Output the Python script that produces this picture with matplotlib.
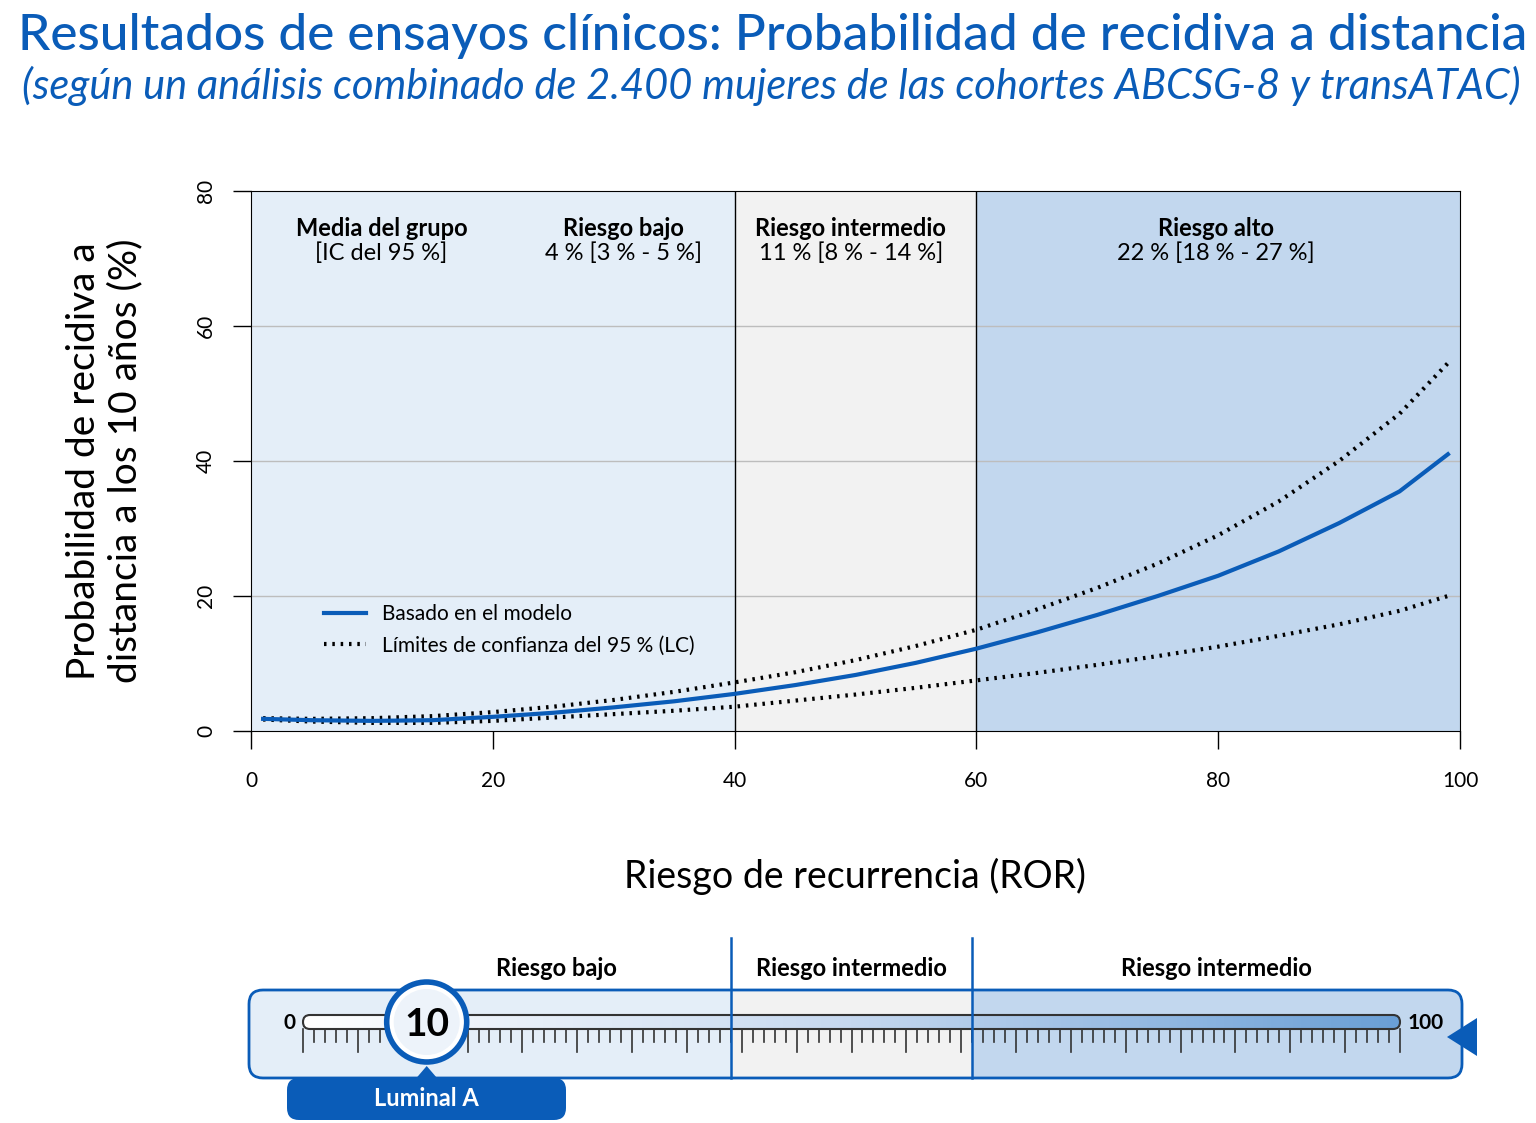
import numpy as np
import matplotlib.pyplot as plt
from matplotlib.patches import FancyBboxPatch, Circle, Polygon
from matplotlib.colors import LinearSegmentedColormap

plt.rcParams['font.family'] = ['Lato', 'DejaVu Sans']

BLUE = '#0a5cb8'
LIGHT = '#e4eef8'
GREY = '#f2f2f2'
MID = '#c2d7ee'

# data
ror = [1, 5, 10, 15, 20, 25, 30, 35, 40, 45, 50, 55, 60, 65, 70, 75, 80, 85, 90, 95, 99]
model = [1.8, 1.6, 1.5, 1.6, 2.1, 2.7, 3.5, 4.4, 5.5, 6.8, 8.3, 10.1, 12.2, 14.6, 17.2,
         20.0, 23.0, 26.6, 30.8, 35.5, 41.0]
upper = [1.9, 1.8, 1.9, 2.2, 2.8, 3.6, 4.6, 5.8, 7.2, 8.7, 10.5, 12.6, 15.0, 18.0, 21.2,
         24.8, 29.0, 34.0, 40.0, 47.0, 54.5]
lower = [1.7, 1.4, 1.2, 1.2, 1.5, 2.0, 2.5, 3.0, 3.6, 4.5, 5.4, 6.4, 7.5, 8.6, 9.8,
         11.1, 12.5, 14.1, 15.8, 17.8, 20.0]
bands = [(0, 40, LIGHT), (40, 60, GREY), (60, 100, MID)]
band_titles = [(10.8, 'Media del grupo', '[IC del 95 %]'),
               (30.8, 'Riesgo bajo', '4 % [3 % - 5 %]'),
               (49.6, 'Riesgo intermedio', '11 % [8 % - 14 %]'),
               (79.8, 'Riesgo alto', '22 % [18 % - 27 %]')]
patient_ror = 10
patient_type = 'Luminal A'
scale_labels = ['Riesgo bajo', 'Riesgo intermedio', 'Riesgo intermedio']

W, H = 1536, 1123
fig = plt.figure(figsize=(W / 100, H / 100), dpi=100)

# overlay in pixel coordinates for titles and the slider widget
ov = fig.add_axes([0, 0, 1, 1])
ov.axis('off')

ov.text(18, 36, 'Resultados de ensayos clínicos: Probabilidad de recidiva a distancia',
        color=BLUE, fontsize=37, fontweight='medium', va='center', ha='left')
ov.text(22, 86, '(según un análisis combinado de 2.400 mujeres de las cohortes ABCSG-8 y transATAC)',
        color=BLUE, fontsize=30, style='italic', va='center', ha='left')

# main chart
x0, x1, y0, y1 = 251, 1460, 731, 191
ax = fig.add_axes([x0 / W, 1 - y0 / H, (x1 - x0) / W, (y0 - y1) / H])
for a, b, c in bands:
    ax.axvspan(a, b, color=c, zorder=0, lw=0)
for v in [20, 40, 60]:
    ax.axhline(v, color='#bdbdbd', lw=1, zorder=1)
for v in [40, 60]:
    ax.axvline(v, color='black', lw=1, zorder=2)
ax.plot(ror, model, color=BLUE, lw=3, zorder=4, label='Basado en el modelo')
ax.plot(ror, upper, color='black', lw=3, ls=(0, (0.6, 1.4)), zorder=3,
        label='Límites de confianza del 95 % (LC)')
ax.plot(ror, lower, color='black', lw=3, ls=(0, (0.6, 1.4)), zorder=3)
ax.set_xlim(0, 100)
ax.set_ylim(0, 80)
ax.set_xticks(range(0, 101, 20))
ax.set_yticks(range(0, 81, 20))
ax.tick_params(labelsize=15, length=13, width=1)
ax.tick_params(axis='x', pad=16)
for lab in ax.get_yticklabels():
    lab.set_rotation(90)
    lab.set_va('center')
ax.tick_params(axis='y', pad=12)
for xc, t1, t2 in band_titles:
    ax.text(xc, 74.5, t1, ha='center', va='center', fontsize=17, fontweight='bold')
    ax.text(xc, 70.8, t2, ha='center', va='center', fontsize=17)
ax.legend(loc='lower left', bbox_to_anchor=(0.045, 0.105), frameon=False, fontsize=15,
          handlelength=2, labelspacing=0.55)
ax.set_ylabel('Probabilidad de recidiva a\ndistancia a los 10 años (%)', fontsize=28, labelpad=38)
ax.set_xlabel('Riesgo de recurrencia (ROR)', fontsize=27, labelpad=48)

# slider widget
bx0, bx1, by0, by1 = 249, 1462, 990, 1078
box = FancyBboxPatch((bx0, by0), bx1 - bx0, by1 - by0,
                     boxstyle='round,pad=0,rounding_size=14', fc='none', ec=BLUE, lw=2, zorder=5)
ov.add_patch(box)
seg_px = [(bx0, 731, LIGHT), (731, 972, GREY), (972, bx1, MID)]
for a, b, c in seg_px:
    r = ov.fill_between([a, b], by0, by1, color=c, lw=0, zorder=1)
    r.set_clip_path(box)
for xv in [731, 972]:
    ov.plot([xv, xv], [938, by1], color=BLUE, lw=1.8, zorder=6)
for xc, t in zip([556, 851, 1216], scale_labels):
    ov.text(xc, 968, t, ha='center', va='center', fontsize=17, fontweight='bold')

s0, s1 = 303, 1400
def sx(v):
    return s0 + (s1 - s0) * v / 100

bar = FancyBboxPatch((s0, 1015), s1 - s0, 14, boxstyle='round,pad=0,rounding_size=7',
                     fc='none', ec='#333333', lw=1.5, zorder=4)
ov.add_patch(bar)
grad = np.linspace(0, 1, 256).reshape(1, -1)
cmap = LinearSegmentedColormap.from_list('g', ['#ffffff', '#c6d8ef', '#6a9fd6'])
im = ov.imshow(grad, extent=(s0, s1, 1029, 1015), cmap=cmap, aspect='auto', zorder=3)
im.set_clip_path(bar)
ov.set_xlim(0, W)
ov.set_ylim(H, 0)
for v in range(0, 101):
    L = 1052 if v % 5 == 0 else 1042
    ov.plot([sx(v), sx(v)], [1029, L], color='#333333', lw=1.2, zorder=4)
ov.text(s0 - 8, 1023, '0', ha='right', va='center', fontsize=15, fontweight='bold')
ov.text(s1 + 8, 1023, '100', ha='left', va='center', fontsize=15, fontweight='bold')
ov.add_patch(Polygon([[1447, 1037], [1477, 1018], [1477, 1056]], closed=True, fc=BLUE, ec='none', zorder=6))

px = sx(patient_ror) + 14
tab = FancyBboxPatch((287, 1078), 566 - 287, 42, boxstyle='round,pad=0,rounding_size=12',
                     fc=BLUE, ec='none', zorder=5)
ov.add_patch(tab)
ov.add_patch(Polygon([[px - 12, 1080], [px, 1066], [px + 12, 1080]], closed=True, fc=BLUE, ec='none', zorder=5))
ov.text(426, 1098, patient_type, ha='center', va='center', fontsize=17, fontweight='bold',
        color='white', zorder=6)
ov.add_patch(Circle((px, 1022), 40, fc='white', ec=BLUE, lw=4, zorder=7))
ov.add_patch(Circle((px, 1022), 33, fc='#edf3fa', ec='none', zorder=7))
ov.text(px, 1024, str(patient_ror), ha='center', va='center', fontsize=28, fontweight='bold', zorder=8)

fig.savefig('out.png', dpi=100)
